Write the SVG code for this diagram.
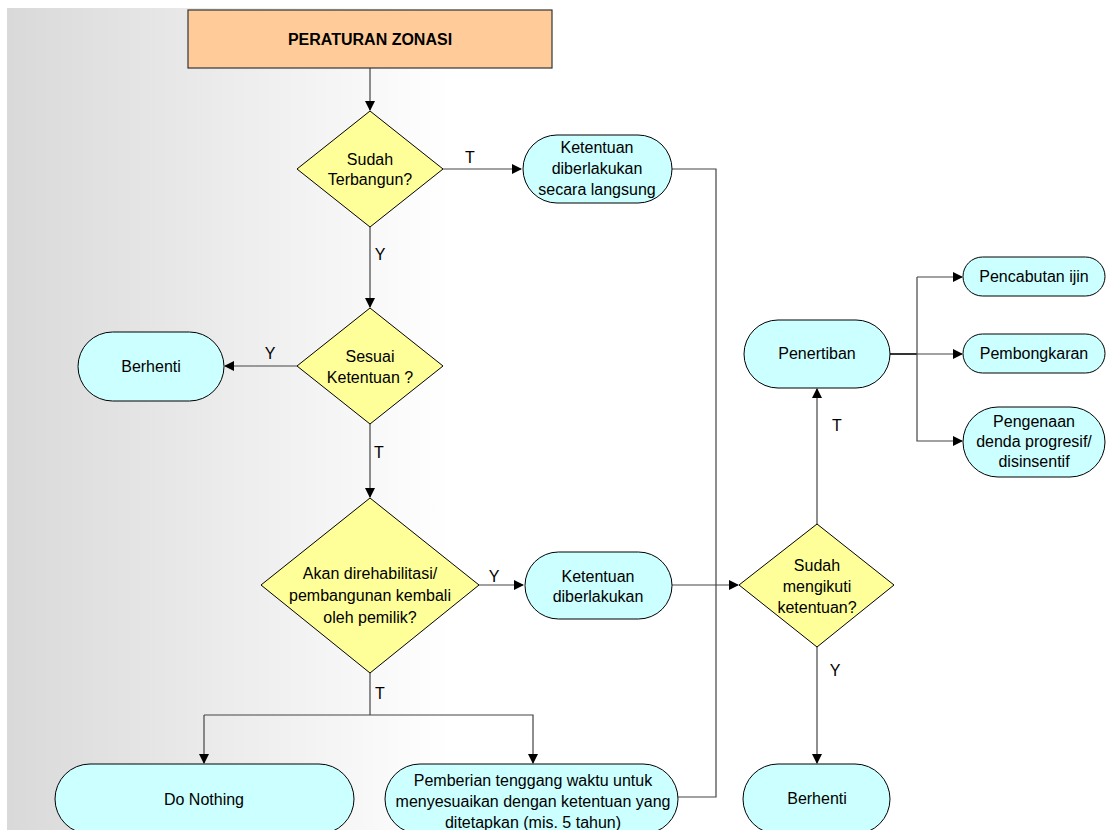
<svg xmlns="http://www.w3.org/2000/svg" width="1107" height="830" viewBox="0 0 1107 830">
<defs>
<linearGradient id="bg" x1="7" y1="0" x2="450" y2="0" gradientUnits="userSpaceOnUse">
<stop offset="0" stop-color="#d9d9d9"/>
<stop offset="1" stop-color="#ffffff"/>
</linearGradient>
<marker id="ah" markerWidth="10" markerHeight="10" refX="9" refY="5" orient="auto" markerUnits="userSpaceOnUse">
<path d="M0,0 L10,5 L0,10 Z" fill="#000"/>
</marker>
<style>
.t{font-family:"Liberation Sans",Arial,sans-serif;font-size:16px;fill:#000;text-anchor:middle}
.b{font-weight:bold;font-size:16px}
.term{fill:#ccffff;stroke:#000;stroke-width:1}
.dec{fill:#ffff99;stroke:#000;stroke-width:1}
.proc{fill:#ffcc99;stroke:#333;stroke-width:1.2}
.c{fill:none;stroke:#444;stroke-width:1.2}
.ca{fill:none;stroke:#444;stroke-width:1.2;marker-end:url(#ah)}
</style>
</defs>
<rect x="0" y="0" width="1107" height="830" fill="#fff"/>
<rect x="7" y="8" width="1100" height="822" fill="url(#bg)"/>

<g id="connectors">
<path class="ca" d="M370,68 V110"/>
<path class="ca" d="M443,169 H521"/>
<path class="c" d="M672,169 H716 V797 H678"/>
<path class="ca" d="M370,227 V307"/>
<path class="ca" d="M297,366 H225"/>
<path class="ca" d="M370,424 V497"/>
<path class="ca" d="M479,585 H523"/>
<path class="ca" d="M672,585 H738"/>
<path class="c" d="M370,673 V715"/>
<path class="ca" d="M204,715 V763"/>
<path class="ca" d="M204,715 H533 V763"/>
<path class="ca" d="M817,524 V389"/>
<path class="ca" d="M817,647 V763"/>
<path class="c" d="M890,354 H917" style="stroke:#000;stroke-width:1.6"/>
<path class="ca" d="M917,277 V441 H962"/>
<path class="ca" d="M917,277 H962"/>
<path class="ca" d="M917,354 H962"/>
<text class="t" x="470" y="163">T</text>
<text class="t" x="380" y="260">Y</text>
<text class="t" x="270" y="359">Y</text>
<text class="t" x="379" y="458">T</text>
<text class="t" x="494" y="582">Y</text>
<text class="t" x="380" y="699">T</text>
<text class="t" x="837" y="431">T</text>
<text class="t" x="835" y="676">Y</text>
</g>

<g id="n-peraturan">
<rect class="proc" x="188" y="10" width="364" height="58"/>
<text class="t b" x="370" y="45">PERATURAN ZONASI</text>
</g>

<g id="n-sudah-terbangun">
<polygon class="dec" points="370,111 443,169 370,227 297,169"/>
<text class="t" x="370" y="165">Sudah</text>
<text class="t" x="370" y="185">Terbangun?</text>
</g>

<g id="n-langsung">
<rect class="term" x="523" y="135" width="149" height="68" rx="34" ry="34"/>
<text class="t" x="597" y="153">Ketentuan</text>
<text class="t" x="597" y="174">diberlakukan</text>
<text class="t" x="597" y="195">secara langsung</text>
</g>

<g id="n-sesuai">
<polygon class="dec" points="370,308 443,366 370,424 297,366"/>
<text class="t" x="370" y="362">Sesuai</text>
<text class="t" x="370" y="383">Ketentuan ?</text>
</g>

<g id="n-berhenti1">
<rect class="term" x="78" y="332" width="146" height="69" rx="34.5" ry="34.5"/>
<text class="t" x="151" y="372">Berhenti</text>
</g>

<g id="n-rehab">
<polygon class="dec" points="370,498 479,585 370,673 261,585"/>
<text class="t" x="370" y="579">Akan direhabilitasi/</text>
<text class="t" x="370" y="601">pembangunan kembali</text>
<text class="t" x="370" y="623">oleh pemilik?</text>
</g>

<g id="n-diberlakukan">
<rect class="term" x="525" y="552" width="147" height="67" rx="33.5" ry="33.5"/>
<text class="t" x="598" y="582">Ketentuan</text>
<text class="t" x="598" y="602">diberlakukan</text>
</g>

<g id="n-mengikuti">
<polygon class="dec" points="817,524 894,585 817,647 739,585"/>
<text class="t" x="817" y="571">Sudah</text>
<text class="t" x="817" y="592">mengikuti</text>
<text class="t" x="817" y="613">ketentuan?</text>
</g>

<g id="n-penertiban">
<rect class="term" x="744" y="320" width="146" height="68" rx="34" ry="34"/>
<text class="t" x="817" y="359">Penertiban</text>
</g>

<g id="n-pencabutan">
<rect class="term" x="963" y="257" width="142" height="39" rx="19.5" ry="19.5"/>
<text class="t" x="1034" y="282">Pencabutan ijin</text>
</g>

<g id="n-pembongkaran">
<rect class="term" x="963" y="334" width="142" height="39" rx="19.5" ry="19.5"/>
<text class="t" x="1034" y="359">Pembongkaran</text>
</g>

<g id="n-pengenaan">
<rect class="term" x="963" y="407" width="142" height="70" rx="35" ry="35"/>
<text class="t" x="1034" y="427">Pengenaan</text>
<text class="t" x="1034" y="447">denda progresif/</text>
<text class="t" x="1034" y="467">disinsentif</text>
</g>

<g id="n-donothing">
<rect class="term" x="55" y="764" width="299" height="70" rx="35" ry="35"/>
<text class="t" x="204" y="805">Do Nothing</text>
</g>

<g id="n-pemberian">
<rect class="term" x="385" y="764" width="293" height="70" rx="35" ry="35"/>
<text class="t" x="533" y="786">Pemberian tenggang waktu untuk</text>
<text class="t" x="533" y="807">menyesuaikan dengan ketentuan yang</text>
<text class="t" x="533" y="828">ditetapkan (mis. 5 tahun)</text>
</g>

<g id="n-berhenti2">
<rect class="term" x="743" y="764" width="147" height="70" rx="35" ry="35"/>
<text class="t" x="817" y="804">Berhenti</text>
</g>
</svg>
